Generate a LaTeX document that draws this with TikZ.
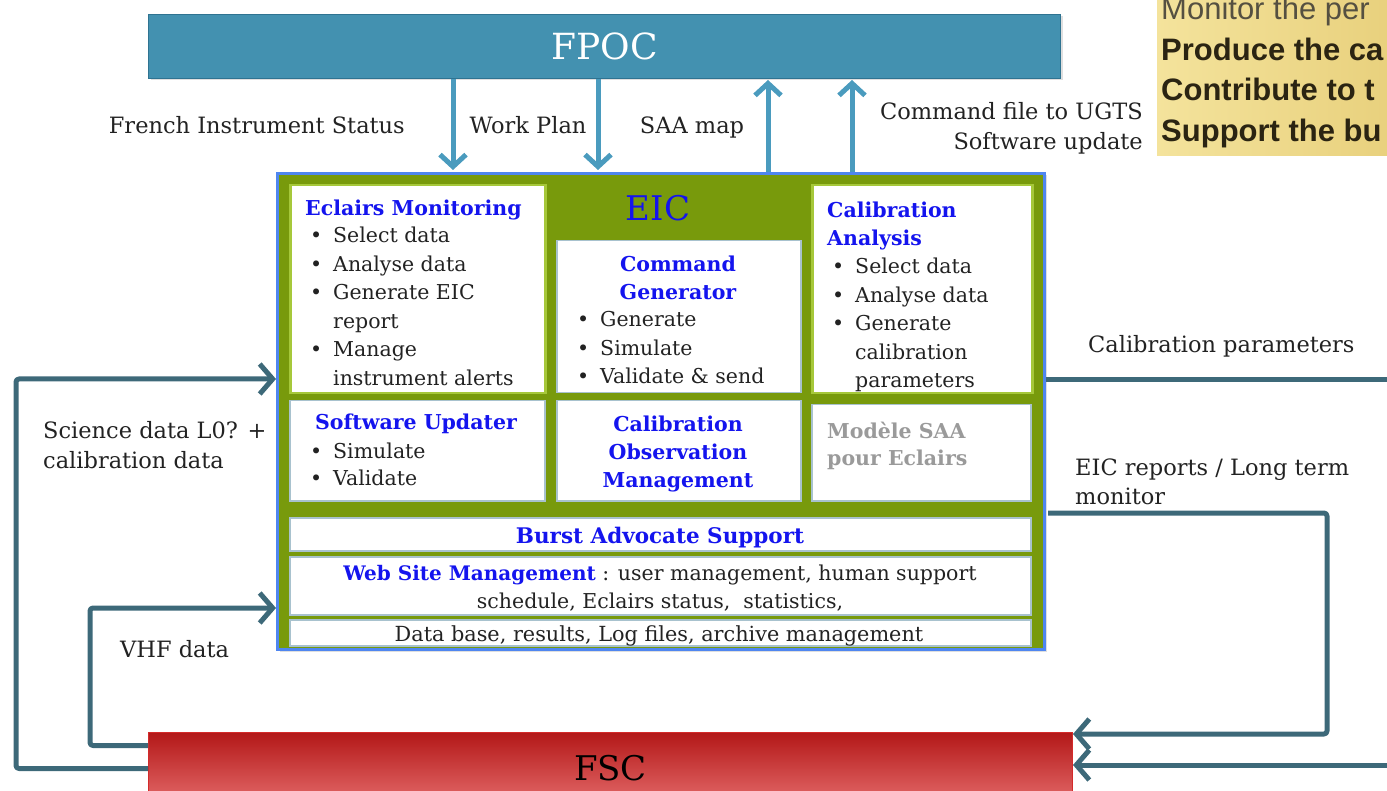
\documentclass[tikz,border=0pt]{standalone}
\usepackage{fontspec}
\setmainfont{DejaVu Serif}
\newfontfamily\notefont{Liberation Sans}
\usetikzlibrary{arrows.meta,shadows}

\definecolor{fpocblue}{HTML}{4391B0}
\definecolor{fpocedge}{HTML}{2F7391}
\definecolor{linkblue}{HTML}{4A9BBE}
\definecolor{linkteal}{HTML}{3D6979}
\definecolor{eicblue}{HTML}{4F86F0}
\definecolor{eicgreen}{HTML}{789A0C}
\definecolor{lightgreen}{HTML}{A6C83A}
\definecolor{paleedge}{HTML}{A8C2CE}
\definecolor{titleblue}{HTML}{1414EE}
\definecolor{saagray}{HTML}{9A9A9A}
\definecolor{fsctop}{HTML}{B31818}
\definecolor{fscbot}{HTML}{E46A6A}
\definecolor{fscedge}{HTML}{D42A2A}
\definecolor{noteleft}{HTML}{F4E39C}
\definecolor{noteright}{HTML}{E8D07C}
\definecolor{noteink}{HTML}{2B2412}
\definecolor{ink}{HTML}{222222}

\tikzset{
  panel/.style={draw=lightgreen, line width=2.5pt, fill=white, anchor=north west, inner sep=0pt},
  subpanel/.style={draw=paleedge, line width=1.5pt, fill=white, anchor=north west, inner sep=0pt},
  ttl/.style={font=\fontsize{20.5}{28}\selectfont\bfseries, text=titleblue, inner sep=0pt},
  items/.style={font=\fontsize{20.5}{28.5}\selectfont, text=ink, align=left, inner sep=0pt, anchor=base west},
  lbl/.style={font=\fontsize{22.5}{30}\selectfont, text=ink, inner sep=0pt},
  notetext/.style={font=\notefont\fontsize{31}{31}\selectfont, text=noteink, inner sep=0pt, anchor=base west},
  barrow/.style={draw=linkblue, line width=5pt, -{Straight Barb[length=12pt,width=26pt]}},
  tarrow/.style={draw=linkteal, line width=5pt, line join=round, rounded corners=3pt, -{Straight Barb[length=13pt,width=30pt]}},
  tline/.style={draw=linkteal, line width=5pt, line join=round, rounded corners=3pt},
  softshadow/.style={drop shadow={shadow xshift=2pt, shadow yshift=-2pt, opacity=0.25}},
}
\newcommand{\bl}{\makebox[23pt][l]{\textbullet}}
\newcommand{\ind}{\hspace*{23pt}}

\begin{document}
\begin{tikzpicture}[x=1pt,y=-1pt]
\useasboundingbox (0,0) rectangle (1387,791);
\begin{scope}
\clip (0,0) rectangle (1387,791);

% note panel, top right
\node[left color=noteleft, right color=noteright, minimum width=240pt, minimum height=160pt, anchor=north west, inner sep=0pt] (note) at (1157,-5) {};
\node[notetext, font=\notefont\fontsize{31}{31}\selectfont, text=noteink!80] (n1) at (1161,20) {Monitor the per};
\node[notetext, font=\notefont\bfseries\fontsize{31}{31}\selectfont] (n2) at (1161,60.5) {Produce the ca};
\node[notetext, font=\notefont\bfseries\fontsize{31}{31}\selectfont] (n3) at (1161,101) {Contribute to t};
\node[notetext, font=\notefont\bfseries\fontsize{31}{31}\selectfont] (n4) at (1161,141.5) {Support the bu};

% FPOC
\node[fill=fpocblue, draw=fpocedge, line width=1pt, minimum width=912pt, minimum height=64pt, anchor=north west, softshadow, font=\fontsize{36}{36}\selectfont, text=white] (fpoc) at (148,14) {FPOC};

% EIC frame
\node[draw=eicblue, line width=3pt, fill=eicgreen, minimum width=767pt, minimum height=476pt, anchor=north west, inner sep=0pt, softshadow] (eic) at (276,172) {};
\node[font=\fontsize{34}{34}\selectfont, text=titleblue, inner sep=0pt] (eict) at (658,208) {EIC};

% EIC sub-panels
\node[panel, minimum width=255pt, minimum height=208pt] (mon) at (289,184) {};
\node[subpanel, minimum width=244pt, minimum height=152pt] (cmd) at (556,240) {};
\node[panel, minimum width=220pt, minimum height=208pt] (cal) at (811,184) {};
\node[subpanel, minimum width=255pt, minimum height=100pt] (swu) at (289,400) {};
\node[subpanel, minimum width=244pt, minimum height=100pt] (com) at (556,400) {};
\node[subpanel, minimum width=219pt, minimum height=96pt] (saa) at (811,404) {};
\node[subpanel, minimum width=741pt, minimum height=33pt] (bas) at (289,517) {};
\node[subpanel, minimum width=741pt, minimum height=58pt] (web) at (289,556) {};
\node[subpanel, minimum width=741pt, minimum height=26pt] (dbs) at (289,619) {};

% panel contents (multi-line nodes sit on the baseline of their last line)
\node[ttl, anchor=base west] (monT) at (305,216) {Eclairs Monitoring};
\node[items] (monI) at (310,385.5) {\bl Select data\\\bl Analyse data\\\bl Generate EIC\\\ind report\\\bl Manage\\\ind instrument alerts};

\node[ttl, anchor=base, align=center] (cmdT) at (678,300) {Command\\Generator};
\node[items] (cmdI) at (577,384) {\bl Generate\\\bl Simulate\\\bl Validate \& send};

\node[ttl, anchor=base west, align=left] (calT) at (827,246) {Calibration\\Analysis};
\node[items] (calI) at (832,388) {\bl Select data\\\bl Analyse data\\\bl Generate\\\ind calibration\\\ind parameters};

\node[ttl, anchor=base] (swuT) at (416,430) {Software Updater};
\node[items, font=\fontsize{20.5}{27}\selectfont] (swuI) at (310,485) {\bl Simulate\\\bl Validate};

\node[ttl, anchor=base, align=center] (comT) at (678,487) {Calibration\\Observation\\Management};

\node[ttl, anchor=base west, align=left, text=saagray, font=\fontsize{20.5}{27}\selectfont\bfseries] (saaT) at (827,465) {Modèle SAA\\pour Eclairs};

\node[ttl, anchor=base, font=\fontsize{21.5}{28}\selectfont\bfseries] (basT) at (660,543) {Burst Advocate Support};
\node[lbl, anchor=base, align=center, font=\fontsize{20.5}{28}\selectfont] (webT) at (660,608) {{\color{titleblue}\bfseries\fontsize{20}{28}\selectfont Web Site Management} : user management, human support\\schedule, Eclairs status,\ \ statistics,};
\node[lbl, anchor=base, font=\fontsize{20.8}{28}\selectfont] (dbsT) at (659,641) {Data base, results, Log files, archive management};

% FSC
\node[top color=fsctop, bottom color=fscbot, draw=fscedge, line width=1pt, minimum width=924pt, minimum height=72pt, anchor=north west, inner sep=0pt, font=\fontsize{34}{34}\selectfont, text=black] (fsc) at (148,732) {FSC};

% FPOC <-> EIC flows
\coordinate (xa) at (453,0);
\coordinate (xb) at (598,0);
\coordinate (xc) at (768,0);
\coordinate (xd) at (852,0);
\draw[barrow] (fpoc.south -| xa) -- ([yshift=2pt]eic.north -| xa);
\draw[barrow] (fpoc.south -| xb) -- ([yshift=2pt]eic.north -| xb);
\draw[barrow] (eic.north -| xc) -- ([yshift=-1pt]fpoc.south -| xc);
\draw[barrow] (eic.north -| xd) -- ([yshift=-1pt]fpoc.south -| xd);

\node[lbl, anchor=base east] (l1) at (405,134) {French Instrument Status};
\node[lbl, anchor=base] (l2) at (528,134) {Work Plan};
\node[lbl, anchor=base] (l3) at (692,134) {SAA map};
\node[lbl, anchor=base east, align=right] (l4) at (1143,150) {Command file to UGTS\\Software update};

% FSC <-> EIC flows
\coordinate (sciC) at (16,379);
\coordinate (vhfC) at (90,608);
\draw[tarrow] (fsc.west) -| (sciC) -- (eic.west |- sciC);
\draw[tarrow] ([yshift=23pt]fsc.west) -| (vhfC) -- (eic.west |- vhfC);

\coordinate (cpR) at (1400,380);
\draw[tline] (eic.east |- cpR) -- (cpR);
\coordinate (fbR) at (1400,765);
\draw[tarrow] (fbR) -- (fsc.east |- fbR);

\coordinate (erS) at (1048,513);
\coordinate (erC) at (1327,513);
\coordinate (erB) at (1327,734);
\draw[tarrow] (erS) -- (erC) -- (erB) -- (fsc.east |- erB);

\node[lbl, anchor=base west, align=left] (sciL) at (43,468) {Science data L0? +\\calibration data};
\node[lbl, anchor=base west] (vhfL) at (120,657) {VHF data};
\node[lbl, anchor=base west] (calpL) at (1088,353) {Calibration parameters};
\node[lbl, anchor=base west, align=left, font=\fontsize{22.5}{29}\selectfont] (eicrL) at (1075,504) {EIC reports / Long term\\monitor};
\end{scope}
\end{tikzpicture}
\end{document}
